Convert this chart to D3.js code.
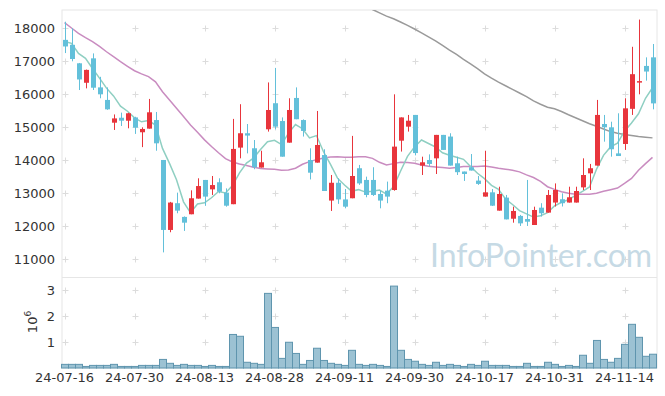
<!DOCTYPE html>
<html><head><meta charset="utf-8">
<script src="https://cdn.jsdelivr.net/npm/d3@7/dist/d3.min.js"></script>
<style>body{margin:0;background:#fff}svg{display:block}</style>
</head><body><svg id="c" width="665" height="396"></svg>
<script>
const dates = ["2024-07-16","2024-07-17","2024-07-18","2024-07-19","2024-07-22","2024-07-23","2024-07-24","2024-07-25","2024-07-26","2024-07-29",
"2024-07-30","2024-07-31","2024-08-01","2024-08-02","2024-08-05","2024-08-06","2024-08-07","2024-08-08","2024-08-09","2024-08-12",
"2024-08-13","2024-08-14","2024-08-16","2024-08-19","2024-08-20","2024-08-21","2024-08-22","2024-08-23","2024-08-26","2024-08-27",
"2024-08-28","2024-08-29","2024-08-30","2024-09-02","2024-09-03","2024-09-04","2024-09-05","2024-09-06","2024-09-09","2024-09-10",
"2024-09-11","2024-09-12","2024-09-13","2024-09-19","2024-09-20","2024-09-23","2024-09-24","2024-09-25","2024-09-26","2024-09-27",
"2024-09-30","2024-10-02","2024-10-04","2024-10-07","2024-10-08","2024-10-10","2024-10-11","2024-10-14","2024-10-15","2024-10-16",
"2024-10-17","2024-10-18","2024-10-21","2024-10-22","2024-10-23","2024-10-24","2024-10-25","2024-10-28","2024-10-29","2024-10-30",
"2024-10-31","2024-11-01","2024-11-04","2024-11-05","2024-11-06","2024-11-07","2024-11-08","2024-11-11","2024-11-12","2024-11-13",
"2024-11-14","2024-11-15","2024-11-18","2024-11-19","2024-11-20"];

const opens = [17650,17500,16940,16350,17090,16210,15830,15140,15290,15200,15300,14850,14960,15220,14010,11890,12700,12285,12365,12840,
13405,13120,13335,13020,12670,14385,14820,14365,13780,14940,15730,15190,14535,15890,15220,14010,13930,14160,12780,13320,
12815,12850,13760,13405,13405,12980,13080,13100,14595,15020,15375,13840,14010,14060,14770,14720,13910,13660,13790,13385,
12900,13030,12475,12870,12230,12315,12220,12040,12565,12415,12720,12820,12720,12720,13180,13605,13840,15100,15000,14210,
14495,15560,16360,16860,17120];
const highs = [18200,18000,16950,16750,17240,16530,16210,15390,15445,15440,15320,15000,15860,15465,14010,12740,13020,12300,13090,13455,
13405,13525,13455,13150,15255,15700,15100,14615,14290,16360,16800,15300,15880,16210,15240,14365,15495,14335,13555,13455,
13130,14740,13860,13505,13790,13080,13355,16000,15300,15375,15375,14110,14180,14770,14770,14820,14110,13660,14190,13525,
14290,13130,13200,12950,12595,12345,13405,12595,12700,13100,13300,13000,13200,13200,14060,13890,15830,15375,15170,15425,
15880,17440,18265,17120,17525];
const lows = [17250,17000,16130,16180,16130,15880,15530,14920,15040,14970,14800,14400,14960,14290,11210,11820,12395,11860,12365,12840,
12620,12950,13000,12595,12670,14060,14210,13730,13780,14870,14940,14110,14535,15245,14720,13420,13930,13070,12465,12680,
12545,12850,13255,12880,12920,12545,12700,13080,14265,14870,14150,13555,13810,13585,14315,13840,13555,13375,13690,13255,
12900,12615,12475,12210,12110,12010,12010,12040,12295,12415,12600,12600,12720,12720,13100,13100,13840,14565,14110,14130,
14315,15375,16000,16415,15545];
const closes = [17450,17070,16450,16740,16200,16000,15545,15270,15200,15425,14990,14950,15455,14515,11890,12720,12475,12110,12850,13220,
12900,13250,13050,12625,14345,14820,14750,13790,13940,15525,15020,14110,15525,15245,14890,13625,14465,13070,13320,12815,
12595,13525,13300,12950,12950,12780,12900,14415,15300,15200,14220,13940,13890,14770,14315,13840,13640,13585,13690,13285,
13030,12625,12980,12210,12465,12090,12140,12495,12395,12950,13100,12700,12880,13070,13555,13760,15375,15000,14335,14130,
15575,16610,16400,16690,15725];
const volumes = [140000,140000,140000,60000,100000,100000,100000,140000,60000,60000,60000,100000,100000,100000,330000,180000,100000,140000,100000,100000,
60000,100000,60000,60000,1290000,1220000,220000,180000,140000,2870000,1560000,370000,990000,560000,140000,290000,760000,290000,180000,140000,
100000,680000,140000,100000,140000,100000,60000,3150000,680000,330000,260000,140000,100000,220000,100000,140000,100000,60000,140000,100000,
260000,100000,100000,100000,60000,60000,180000,60000,60000,220000,140000,60000,100000,60000,490000,180000,1060000,330000,220000,370000,
910000,1680000,1180000,450000,530000];
const ma5 = [17600,17545,17240,17090,16782,16492,16187,15951,15643,15488,15286,15167,15204,15067,14360,13906,13411,12742,12409,12675,
12711,12866,13054,13009,13234,13618,13918,14066,14329,14565,14605,14477,14824,15085,14958,14679,14750,14259,13874,13459,
13253,13065,13111,13037,13064,13101,12976,13199,13669,14119,14407,14615,14510,14404,14227,14151,14091,14030,13814,13608,
13446,13243,13122,12826,12662,12474,12377,12280,12317,12414,12616,12728,12805,12940,13061,13193,13728,14152,14405,14520,
14883,15130,15410,15881,16200];
const ma20 = [18170,18010,17850,17720,17600,17450,17290,17140,16990,16850,16715,16620,16535,16380,16080,15830,15575,15325,15070,14850,
14620,14420,14230,14050,13950,13890,13840,13790,13750,13740,13730,13700,13710,13760,13880,13960,14020,14070,14100,14110,
14090,14090,14110,14110,14060,13940,13860,13900,13940,13930,13910,13860,13820,13800,13780,13760,13780,13810,13810,13810,
13830,13800,13760,13730,13700,13650,13560,13480,13360,13200,13120,13050,13000,12970,12970,12970,13000,13060,13110,13160,
13300,13450,13700,13900,14090];
const ma60 = [null,null,null,null,null,null,null,null,null,null,null,null,null,null,null,null,null,null,null,null,
null,null,null,null,null,null,null,null,null,null,null,null,null,null,null,null,null,null,null,null,
null,null,18790,18680,18570,18470,18370,18290,18190,18090,17980,17860,17740,17620,17480,17340,17210,17060,16920,16780,
16620,16490,16370,16260,16150,16040,15930,15800,15700,15610,15560,15480,15380,15290,15200,15110,15030,14950,14870,14820,
14780,14750,14720,14700,14680];
const priceTicks = [11000,12000,13000,14000,15000,16000,17000,18000];
const volumeTicks = [1000000,2000000,3000000];
const tickEvery = 10;

const L = 62, R = 657, pTop = 10, pBot = 277, vTop = 277, vBot = 368;
const FONT = "DejaVu Sans";
const svg = d3.select("#c");

const x = d3.scaleBand().domain(dates).range([61, 656]).padding(0);
const cx = d => x(d) + x.bandwidth() / 2;
const y = d3.scaleLinear().domain([10464, 18555]).range([pBot, pTop]);
const yv = d3.scaleLinear().domain([0, 3500000]).range([vBot, vTop]);

const xTickDates = dates.filter((d, i) => i % tickEvery === 0);

// frame
svg.append("rect").attr("x", L).attr("y", pTop).attr("width", R - L).attr("height", vBot - pTop)
  .attr("fill", "none").attr("stroke", "#e6e6e6");
svg.append("line").attr("x1", L).attr("x2", R).attr("y1", pBot + 0.5).attr("y2", pBot + 0.5).attr("stroke", "#e6e6e6");

// grid crosses
const cross = (g, px, py) => {
  g.append("line").attr("x1", px - 3).attr("x2", px + 3).attr("y1", py).attr("y2", py).attr("stroke", "#dcdcdc");
  g.append("line").attr("x1", px).attr("x2", px).attr("y1", py - 3).attr("y2", py + 3).attr("stroke", "#dcdcdc");
};
const gg = svg.append("g");
xTickDates.forEach(d => {
  priceTicks.forEach(p => cross(gg, Math.round(cx(d)) + 0.5, Math.round(y(p)) + 0.5));
  volumeTicks.forEach(v => cross(gg, Math.round(cx(d)) + 0.5, Math.round(yv(v)) + 0.5));
});

// watermark
svg.append("text").attr("x", 430).attr("y", 267).attr("font-family", "Lato").attr("font-size", 32)
  .attr("fill", "#c6dae5").text("InfoPointer.com");

// clip
svg.append("clipPath").attr("id", "pc").append("rect").attr("x", L).attr("y", pTop).attr("width", R - L).attr("height", pBot - pTop);

// moving averages
const lineGen = arr => d3.line().defined(d => d != null).x((d, i) => cx(dates[i])).y(d => y(d)).curve(d3.curveLinear)(arr);
const lg = svg.append("g").attr("clip-path", "url(#pc)").attr("fill", "none");
lg.append("path").attr("d", lineGen(ma60)).attr("stroke", "#9a9a9a").attr("stroke-width", 1.5);
lg.append("path").attr("d", lineGen(ma20)).attr("stroke", "#c98cc0").attr("stroke-width", 1.5);
lg.append("path").attr("d", lineGen(ma5)).attr("stroke", "#8fcfc2").attr("stroke-width", 1.5);

// candles
const RED = "#e8353c", BLUE = "#63c0da";
const cg = svg.append("g");
dates.forEach((d, i) => {
  const up = closes[i] >= opens[i];
  const col = up ? RED : BLUE;
  const xc = Math.round(cx(d)) + 0.5;
  cg.append("line").attr("x1", xc).attr("x2", xc).attr("y1", y(highs[i])).attr("y2", y(lows[i]))
    .attr("stroke", col).attr("stroke-width", 1);
  const t = y(Math.max(opens[i], closes[i])), b = y(Math.min(opens[i], closes[i]));
  cg.append("rect").attr("x", xc - 2.5).attr("y", t).attr("width", 5).attr("height", Math.max(1.5, b - t)).attr("fill", col);
});

// volume bars
svg.append("g").selectAll("rect").data(volumes).join("rect")
  .attr("x", (v, i) => x(dates[i]) + 0.5).attr("width", x.bandwidth())
  .attr("y", v => yv(v)).attr("height", v => vBot - yv(v))
  .attr("fill", "#9cc2d3").attr("stroke", "#5f95ae").attr("stroke-width", 1);

// axes
const ya = svg.append("g").attr("transform", `translate(${L},0)`)
  .call(d3.axisLeft(y).tickValues(priceTicks).tickSize(0).tickPadding(7).tickFormat(d3.format("d")));
const yva = svg.append("g").attr("transform", `translate(${L},0)`)
  .call(d3.axisLeft(yv).tickValues(volumeTicks).tickSize(0).tickPadding(7).tickFormat(v => v / 1e6));
const xa = svg.append("g").attr("transform", `translate(0,${vBot})`)
  .call(d3.axisBottom(x).tickValues(xTickDates).tickSize(0).tickPadding(5).tickFormat(d => d.slice(2)));
[ya, yva, xa].forEach(a => {
  a.select(".domain").remove();
  a.selectAll("text").attr("font-family", FONT).attr("font-size", 13).attr("fill", "#333");
});

// volume unit label
const ul = svg.append("text").attr("transform", "translate(37,322) rotate(-90)")
  .attr("text-anchor", "middle").attr("font-family", FONT).attr("font-size", 13).attr("fill", "#333");
ul.append("tspan").text("10");
ul.append("tspan").attr("dy", -6).attr("font-size", 9).text("6");
</script></body></html>
